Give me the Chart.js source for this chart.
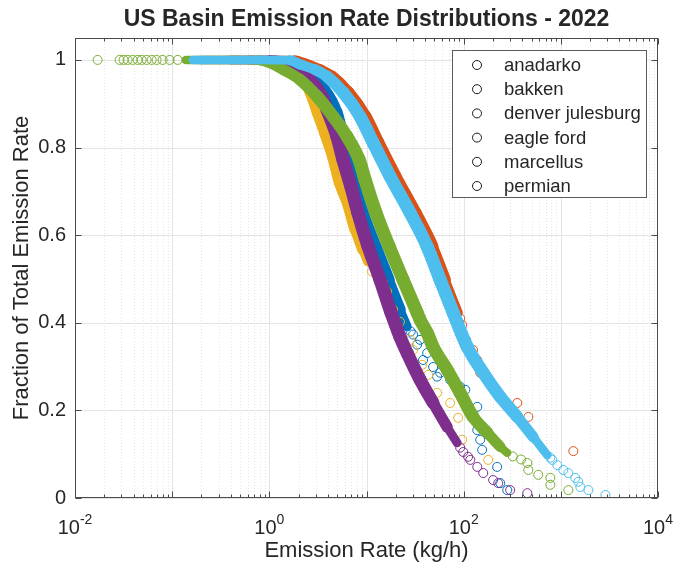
<!DOCTYPE html>
<html><head><meta charset="utf-8">
<script src="https://cdn.jsdelivr.net/npm/chart.js@4/dist/chart.umd.min.js"></script>
<style>html,body{margin:0;padding:0;background:#fff;}#wrap{width:677px;height:567px;position:relative;}</style>
</head><body><div id="wrap"><canvas id="c" width="677" height="567"></canvas></div>
<script>
// ---------- data (x: emission rate kg/h, y: fraction of total emission rate) ----------
const seriesNames = ['anadarko','bakken','denver julesburg','eagle ford','marcellus','permian'];
const seriesColors = ['#D95319','#0072BD','#EDB120','#7E2F8E','#77AC30','#4DBEEE'];

const anadarkoBand = [[0.192,1.0],[0.798,1.0],[1.83,0.999],[2.32,0.992],[3.32,0.978],[4.41,0.962],[6.45,0.926],[9.65,0.871],[13.1,0.811],[19.7,0.734],[31.6,0.651],[47.3,0.574],[64.5,0.498],[87.8,0.423]];
const anadarkoTail = [[92,0.410],[96.6,0.395],[106,0.361],[125,0.338],[138,0.315],[148,0.286],[201,0.251],[221,0.240],[356,0.217],[463,0.185],[485,0.149],[1345,0.107]];

const bakkenBand = [[0.63,1.0],[1.44,0.994],[2.32,0.974],[3.48,0.937],[4.85,0.880],[6.0,0.795],[7.6,0.704],[9.0,0.651],[12.2,0.574],[16.7,0.498],[22.1,0.430],[26.2,0.391]];
const bakkenTail = [[28.5,0.380],[30.2,0.373],[33.2,0.350],[35.6,0.361],[38.2,0.315],[42.1,0.331],[48.5,0.299],[53.3,0.277],[57.3,0.286],[72.6,0.270],[92.0,0.254],[104,0.247],[138,0.208],[138,0.155],[148,0.133],[155,0.110],[221,0.071],[238,0.034],[281,0.018]];

const denverBand = [[0.63,1.0],[1.35,0.992],[2.15,0.962],[2.7,0.926],[3.2,0.880],[3.8,0.834],[4.6,0.779],[5.4,0.720],[6.5,0.674],[7.8,0.613],[9.2,0.567],[10.3,0.539]];
const denverTail = [[11.4,0.517],[13.2,0.500],[14.8,0.491],[16.3,0.471],[18.8,0.430],[22.1,0.402],[28.1,0.361],[30.2,0.338],[37.4,0.304],[43.1,0.281],[53.3,0.240],[72.6,0.217],[87.8,0.183],[96.6,0.133],[179,0.087]];

const eagleFordBand = [[0.40,1.0],[1.01,1.0],[1.75,0.987],[2.62,0.955],[3.48,0.917],[3.92,0.887],[4.97,0.825],[5.73,0.773],[6.92,0.711],[8.17,0.651],[10.4,0.574],[13.8,0.498],[17.9,0.423],[22.1,0.368],[26.2,0.331],[35.6,0.270],[48.5,0.217],[67.6,0.162],[85.7,0.126]];
const eagleFordTail = [[92,0.115],[98.9,0.105],[111,0.094],[117,0.087],[138,0.071],[159,0.057],[201,0.041],[227,0.034],[301,0.018],[452,0.011]];

const marcellusBand = [[0.138,1.0],[0.392,1.0],[0.798,0.999],[1.38,0.978],[2.06,0.955],[3.09,0.917],[4.52,0.871],[6.30,0.825],[8.37,0.773],[9.65,0.727],[12.5,0.651],[17.1,0.574],[23.8,0.498],[33.2,0.423],[35.6,0.407],[42.1,0.377],[48.5,0.345],[67.6,0.293],[92.0,0.240],[125,0.185],[175,0.149],[238,0.117],[281,0.103]];
const marcellusTail = [[0.0171,1],[0.0288,1],[0.0316,1],[0.0348,1],[0.0392,1],[0.0441,1],[0.0485,1],[0.0546,1],[0.0615,1],[0.0692,1],[0.0798,1],[0.0942,1],[0.114,1],[320,0.095],[390,0.088],[452,0.080],[463,0.064],[586,0.053],[780,0.046],[780,0.030],[1195,0.018]];

const permianBand = [[0.163,1.0],[0.392,1.0],[0.798,1.0],[1.63,0.999],[2.06,0.990],[2.94,0.978],[3.92,0.962],[5.73,0.926],[8.57,0.871],[11.7,0.811],[17.5,0.734],[28.1,0.651],[42.1,0.574],[57.3,0.498],[78.0,0.423],[109,0.345],[159,0.286],[238,0.231],[356,0.185],[521,0.139],[726,0.098]];
const permianTail = [[780,0.092],[817,0.087],[920,0.075],[1061,0.064],[1195,0.057],[1410,0.046],[1514,0.037],[1588,0.025],[1921,0.018],[2877,0.007]];

const xTickExponents = [-2, 0, 2, 4];
const yTickValues = [0, 0.2, 0.4, 0.6, 0.8, 1];
const yTickLabels = ['0', '0.2', '0.4', '0.6', '0.8', '1'];
const chartTitle = 'US Basin Emission Rate Distributions - 2022';
const xTitle = 'Emission Rate (kg/h)';
const yTitle = 'Fraction of Total Emission Rate';

// ---------- chart ----------
const FONT = '"Liberation Sans", Arial, Helvetica, sans-serif';
const TXT = '#262626';
Chart.defaults.font.family = FONT;
Chart.defaults.color = TXT;

const bands = [anadarkoBand, bakkenBand, denverBand, eagleFordBand, marcellusBand, permianBand];
const tails = [anadarkoTail, bakkenTail, denverTail, eagleFordTail, marcellusTail, permianTail];
const toPts = a => a.map(p => ({x: p[0], y: p[1]}));

const datasets = [];
seriesNames.forEach((name, i) => {
  const col = seriesColors[i];
  const n = bands[i].length;
  datasets.push({
    label: name + ' (dense)', data: toPts(bands[i]), showLine: true,
    borderColor: col, backgroundColor: col, borderWidth: 10, pointRadius: 0, pointHoverRadius: 0,
    borderCapStyle: 'round', borderJoinStyle: 'round', cubicInterpolationMode: 'monotone', order: 100 - 2 * i,
    segment: { borderWidth: ctx => {
      const dx = ctx.p1.x - ctx.p0.x, dy = ctx.p1.y - ctx.p0.y;
      const len = Math.hypot(dx, dy) || 1;
      let w = 8.5 + 5 * Math.abs(dy) / len;
      if (ctx.p1DataIndex === n - 1) w *= 0.7;
      else if (ctx.p1DataIndex === n - 2) w *= 0.88;
      return w;
    }}
  });
  datasets.push({
    label: name, data: toPts(tails[i]), showLine: false,
    pointRadius: 4.5, pointHoverRadius: 4.5, pointBorderWidth: 1,
    pointBorderColor: col, pointBackgroundColor: 'rgba(0,0,0,0)', borderColor: col,
    order: 99 - 2 * i
  });
});

function hline(ctx, x1, y1, x2, y2) { ctx.beginPath(); ctx.moveTo(x1, y1); ctx.lineTo(x2, y2); ctx.stroke(); }

const matlabPlugin = {
  id: 'matlabAxes',
  beforeDatasetsDraw(chart) {
    const {ctx, chartArea: a, scales: {x, y}} = chart;
    ctx.save();
    ctx.lineWidth = 1;
    ctx.strokeStyle = 'rgba(0,0,0,0.10)';
    ctx.setLineDash([1, 2]);
    for (let e = -2; e < 4; e++) for (let k = 2; k < 10; k++) {
      const px = Math.round(x.getPixelForValue(k * Math.pow(10, e))) + 0.5;
      hline(ctx, px, a.top, px, a.bottom);
    }
    ctx.setLineDash([]);
    ctx.strokeStyle = '#e4e4e4';
    for (let e = -1; e < 4; e++) {
      const px = Math.round(x.getPixelForValue(Math.pow(10, e))) + 0.5;
      hline(ctx, px, a.top, px, a.bottom);
    }
    yTickValues.forEach(v => {
      const py = Math.round(y.getPixelForValue(v)) + 0.5;
      hline(ctx, a.left, py, a.right, py);
    });
    ctx.restore();
  },
  afterDatasetsDraw(chart) {
    const {ctx, chartArea: a, scales: {x, y}} = chart;
    ctx.save();
    ctx.strokeStyle = '#4a4a4a';
    ctx.lineWidth = 1;
    const L = Math.round(a.left) + 0.5, R = Math.round(a.right) - 0.5, T = Math.round(a.top) + 0.5, B = Math.round(a.bottom) - 0.5;
    ctx.strokeRect(L, T, R - L, B - T);
    for (let e = -2; e <= 4; e++) {
      for (let k = 1; k < 10; k++) {
        if (e === 4 && k > 1) break;
        const px = Math.round(x.getPixelForValue(k * Math.pow(10, e))) + 0.5;
        const len = k === 1 ? 6 : 3;
        hline(ctx, px, B, px, B - len);
        hline(ctx, px, T, px, T + len);
      }
    }
    yTickValues.forEach(v => {
      const py = Math.round(y.getPixelForValue(v)) + 0.5;
      hline(ctx, L, py, L + 6, py);
      hline(ctx, R, py, R - 6, py);
    });
    ctx.restore();
  },
  afterDraw(chart) {
    const {ctx, chartArea: a, scales: {x}} = chart;
    ctx.save();
    ctx.fillStyle = TXT;
    xTickExponents.forEach(e => {
      const px = x.getPixelForValue(Math.pow(10, e));
      const base = '10', sup = String(e);
      ctx.font = '20px ' + FONT;
      const wb = ctx.measureText(base).width;
      ctx.font = '14px ' + FONT;
      const ws = ctx.measureText(sup).width;
      const x0 = px - (wb + ws) / 2;
      ctx.textAlign = 'left'; ctx.textBaseline = 'alphabetic';
      ctx.font = '20px ' + FONT;
      ctx.fillText(base, x0, 534);
      ctx.font = '14px ' + FONT;
      ctx.fillText(sup, x0 + wb, 524);
    });
    ctx.font = 'bold 23px ' + FONT;
    ctx.textAlign = 'center'; ctx.textBaseline = 'middle';
    ctx.fillText(chartTitle, (a.left + a.right) / 2, 20);
    const bx = 452.5, by = 50.5, bw = 194, bh = 147;
    ctx.fillStyle = '#ffffff';
    ctx.fillRect(bx, by, bw, bh);
    ctx.strokeStyle = '#5a5a5a'; ctx.lineWidth = 1;
    ctx.strokeRect(bx, by, bw, bh);
    ctx.font = '18.5px ' + FONT;
    ctx.textAlign = 'left'; ctx.textBaseline = 'middle';
    seriesNames.forEach((nm, i) => {
      const cy = 65 + i * 24.2;
      ctx.beginPath(); ctx.arc(477, cy, 4.5, 0, Math.PI * 2);
      ctx.strokeStyle = '#1a1a1a'; ctx.lineWidth = 1; ctx.stroke();
      ctx.fillStyle = TXT;
      ctx.fillText(nm, 504, cy + 1);
    });
    ctx.restore();
  }
};

new Chart(document.getElementById('c'), {
  type: 'scatter',
  data: { datasets },
  options: {
    responsive: false, animation: false, devicePixelRatio: 1,
    layout: { padding: { top: 38, right: 19, left: 0, bottom: 0 } },
    plugins: { legend: { display: false }, title: { display: false }, tooltip: { enabled: false } },
    events: [],
    scales: {
      x: {
        type: 'logarithmic', min: 0.01, max: 10000,
        grid: { display: false, drawTicks: false }, border: { display: false },
        ticks: { display: false },
        title: { display: true, text: xTitle, font: { size: 22 }, color: TXT, padding: { top: 0, bottom: 3 } },
        afterFit: s => { s.height = 69; }
      },
      y: {
        type: 'linear', min: 0, max: 1.05,
        grid: { display: false, drawTicks: false }, border: { display: false },
        afterBuildTicks: s => { s.ticks = yTickValues.map(v => ({ value: v })); },
        ticks: { padding: 9, font: { size: 20 }, color: TXT,
          callback: (v) => { const i = yTickValues.indexOf(v); return i >= 0 ? yTickLabels[i] : ''; } },
        title: { display: true, text: yTitle, font: { size: 22 }, color: TXT, padding: { top: 9, bottom: 0 } },
        afterFit: s => { s.width = 75; }
      }
    }
  },
  plugins: [matlabPlugin]
});
</script></body></html>
